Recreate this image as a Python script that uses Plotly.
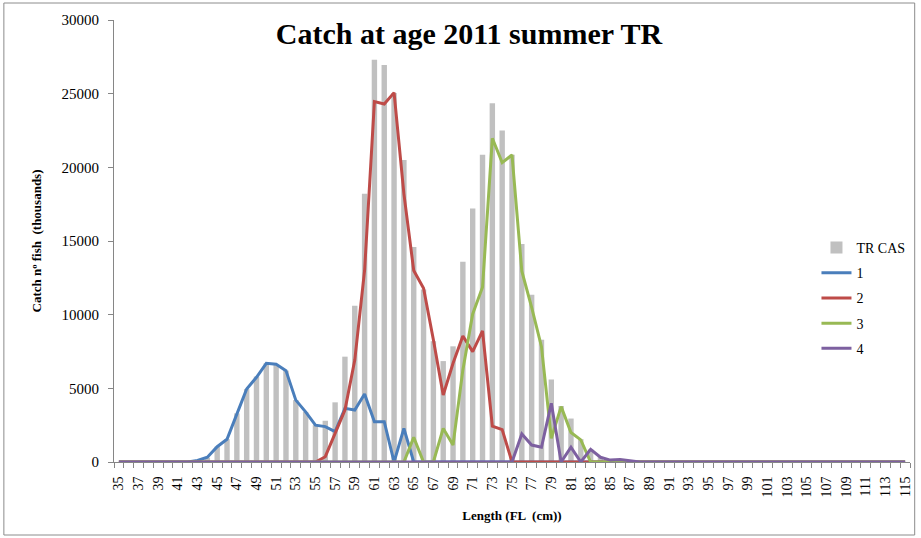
import plotly.graph_objects as go

# Fork length classes (cm)
lengths = list(range(35, 116))

# Total catch-at-length, TR CAS (thousands of fish)
tr_cas = ([0] * 8 +
          [100, 300, 1050, 1550, 3300, 4950, 5800, 6700, 6600, 6200,
           4200, 3400, 2500, 2800, 4050, 7150, 10600, 18200, 27300, 26950,
           25050, 20500, 14600, 11700, 8200, 6850, 7850, 13600, 17200, 20850,
           24350, 22500, 20850, 14800, 11350, 8300, 5600, 3800, 2950, 1550,
           850, 320, 130, 170, 70] +
          [0] * 28)

# Catch by age class
age1 = ([0] * 8 +
        [100, 320, 1040, 1540, 3250, 4960, 5750, 6700, 6630, 6200,
         4200, 3400, 2500, 2400, 2060, 3640, 3530, 4620, 2740, 2740,
         0, 2280] +
        [0] * 51)
age2 = ([0] * 20 +
        [0, 360, 1950, 3530, 6920, 13000, 24460, 24300, 25070, 18200,
         13000, 11800, 8300, 4550, 6700, 8550, 7490, 8900, 2440, 2200] +
        [0] * 41)
age3 = ([0] * 30 +
        [1670, 0, 0, 2280, 1150, 6250, 10050, 11860, 21970, 20320,
         20840, 12950, 10500, 7830, 1600, 3760, 2000, 1500] +
        [0] * 33)
age4 = ([0] * 41 +
        [1900, 1150, 1000, 3980, 0, 1000, 0, 860, 320, 130, 170, 70] +
        [0] * 28)

y_ticks = [0, 5000, 10000, 15000, 20000, 25000, 30000]
tick_text = [str(v) if v % 2 == 1 else "" for v in lengths]

serif = "Liberation Serif"

fig = go.Figure()
fig.add_trace(go.Bar(x=lengths, y=tr_cas, name="TR CAS", legendgroup="0",
                     marker=dict(color="#C0C0C0", line=dict(width=0))))
for i, (name, vals, col) in enumerate([("1", age1, "#4A7EBB"),
                                       ("2", age2, "#BE4B48"),
                                       ("3", age3, "#98B954"),
                                       ("4", age4, "#7D60A0")]):
    fig.add_trace(go.Scatter(x=lengths, y=vals, name=name, mode="lines",
                             legendgroup=str(i + 1),
                             line=dict(color=col, width=3)))

fig.update_layout(
    width=921, height=538,
    margin=dict(l=114.4, r=8.7, t=20, b=76),
    paper_bgcolor="white", plot_bgcolor="white",
    bargap=0.45,
    font=dict(family=serif, color="black"),
    title=dict(text="<b>Catch at age 2011 summer TR</b>",
               font=dict(family=serif, size=30, color="black"),
               x=469 / 921, xanchor="center", xref="container",
               y=1 - 33 / 538, yanchor="middle", yref="container"),
    legend=dict(x=0.8825, y=0.5205, xanchor="left", yanchor="top",
                bgcolor="rgba(0,0,0,0)", font=dict(family=serif, size=14),
                tracegroupgap=4, traceorder="grouped"),
    showlegend=True,
)

fig.update_xaxes(
    range=[34.5, 115.5], tickmode="array", tickvals=lengths,
    ticktext=tick_text, tickangle=-90, ticks="",
    tickfont=dict(family=serif, size=14), ticklabelstandoff=8,
    showline=True, linecolor="#868686", linewidth=1,
    showgrid=False, zeroline=False,
    minor=dict(tick0=34.5, dtick=1, ticks="outside", ticklen=5,
               tickcolor="#868686", showgrid=False),
    title=dict(text="<b>Length (FL  (cm))</b>",
               font=dict(family=serif, size=13), standoff=14),
)
fig.update_yaxes(
    range=[0, 30000], tickmode="array",
    tickvals=y_ticks, ticktext=[str(v) for v in y_ticks],
    ticks="outside", ticklen=5, tickcolor="#868686",
    tickfont=dict(family=serif, size=15), ticklabelstandoff=6,
    showline=True, linecolor="#868686", linewidth=1,
    showgrid=False, zeroline=False,
    title=dict(text="<b>Catch nº fish  (thousands)</b>",
               font=dict(family=serif, size=13), standoff=16),
)

# Chart-area border
fig.add_shape(type="rect", xref="paper", yref="paper",
              x0=(4 - 114.4) / 797.9, x1=(917 - 114.4) / 797.9,
              y0=(462 - 535) / 442, y1=(462 - 3) / 442,
              line=dict(color="#8C8C8C", width=1), layer="below")

fig.write_html("out.html")
